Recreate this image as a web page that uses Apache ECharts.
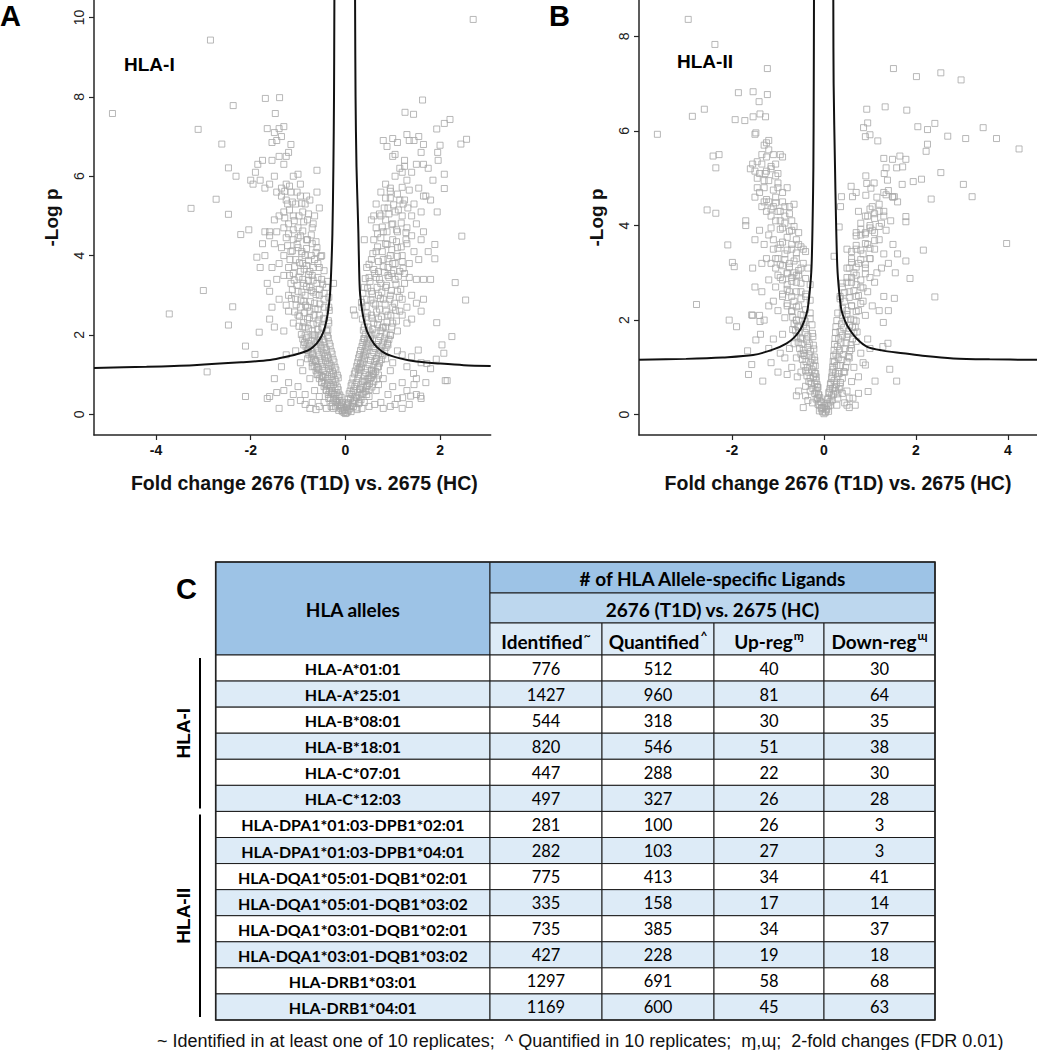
<!DOCTYPE html>
<html><head><meta charset="utf-8">
<script src="https://cdn.jsdelivr.net/npm/echarts@6/dist/echarts.min.js"></script>
<style>html,body{margin:0;padding:0;background:#fff}#c{width:1037px;height:1050px}</style>
</head><body><div id="c"></div>
<script>
// ---------- Panel A (HLA-I) volcano points [fold change, -log p] ----------
const pointsA_outliers = [[2.70,9.95],[-2.85,9.43],[-4.92,7.58],[-1.69,7.96],[-1.39,7.98],[-2.37,7.78],[-1.48,7.58],[-3.11,7.18],[-2.61,6.81],[-2.47,6.21],[-2.31,6.0],[-3.26,5.19],[-2.73,5.42],[-2.47,5.04],[-3.0,3.12],[-3.72,2.53],[-2.38,2.71],[-2.47,2.25],[-2.92,1.07],[-2.11,0.45],[-2.11,1.72],[-1.91,1.51],[-1.82,2.07],[-2.21,4.53],[-2.04,4.65],[-1.87,3.96],[1.63,7.92],[1.26,7.61],[1.44,7.56],[2.21,7.43],[2.09,7.33],[1.93,7.19],[2.56,6.93],[2.44,6.81],[2.0,6.78],[2.09,6.05],[2.09,5.69],[1.94,5.1],[2.46,4.49],[1.89,4.28],[1.89,3.92],[2.32,3.32],[2.54,2.88],[1.93,2.31],[2.25,1.96],[2.04,1.75],[2.08,1.54],[1.92,1.39],[2.11,0.85],[2.15,0.85],[1.59,0.46],[1.38,0.46],[1.21,0.42],[1.44,1.03],[1.54,1.62],[1.72,1.28],[-0.25,3.3],[0.17,2.63],[0.2,2.5]];
const pointsA_base = [[0,0.02],[-0.03,0.05],[0.03,0.04],[-0.06,0.1],[0.06,0.09],[-0.1,0.15],[0.09,0.14],[-0.02,0.12],[0.02,0.18],[-0.13,0.22],[0.12,0.2],[-0.08,0.25],[0.15,0.28],[-0.17,0.3],[0.07,0.3],[-0.12,0.35],[0.18,0.36],[-0.2,0.4],[0.11,0.4],[-0.15,0.45],[0.22,0.44],[-0.24,0.5],[0.14,0.5],[-0.18,0.55],[0.26,0.55],[-0.28,0.6],[0.17,0.6],[-0.22,0.65],[0.3,0.64],[-0.32,0.7],[0.2,0.7],[-0.25,0.75],[0.33,0.74],[-0.35,0.8],[0.23,0.8],[-0.28,0.85],[0.36,0.84],[-0.38,0.9],[0.26,0.9],[-0.3,0.95],[0.4,0.95],[-0.42,1.0],[0.28,1.0],[-0.33,1.05],[0.43,1.05],[-0.45,1.1],[0.31,1.1],[-0.36,1.15],[0.46,1.15],[-0.48,1.2],[0.34,1.2],[-0.39,1.25],[0.5,1.25],[-0.5,1.3],[0.37,1.3],[-0.42,1.35],[0.53,1.36],[-0.53,1.4],[0.4,1.4],[-0.44,1.45],[0.56,1.46],[-0.55,1.5],[0.42,1.5],[-0.47,1.55],[0.6,1.56],[-0.58,1.6],[0.45,1.6],[-0.5,1.65],[0.63,1.66],[-0.6,1.7],[0.48,1.7],[-0.52,1.75],[0.66,1.76],[-0.62,1.8],[0.5,1.8],[-0.55,1.85],[0.7,1.86],[-0.65,1.9],[0.53,1.9],[-0.57,1.95],[0.73,1.96],[-0.68,2.0],[0.56,2.0],
[-0.6,1.0],[-0.7,1.2],[-0.75,0.9],[-0.8,1.4],[-0.9,1.1],[-0.65,0.6],[-0.55,0.45],[-0.45,0.3],[-0.85,0.5],[-1.0,0.7],[-1.1,0.5],[-0.95,1.3],[-1.2,0.8],[-1.3,0.6],[-1.45,0.55],[-1.5,0.9],[-1.6,0.45],[-1.65,0.4],[-1.25,1.5],[-1.35,1.2],[-1.05,1.6],[-0.88,1.75],[-0.35,0.4],[-0.4,0.6],[-0.5,0.8],[-0.58,1.2],[-0.7,1.5],[-0.78,1.65],[-0.3,0.2],[-0.25,0.15],[-0.4,0.15],[-0.55,0.2],[-0.7,0.3],[-0.75,0.15],[-0.62,0.12],[-0.85,0.25],[-0.95,0.35],[-1.15,0.3],[-1.4,0.15],[-0.48,0.95],[-0.62,1.35],[-0.72,1.85],[-0.85,2.2],
[0.6,1.0],[0.7,1.2],[0.8,0.9],[0.85,1.4],[0.95,1.1],[0.65,0.6],[0.5,0.45],[0.4,0.3],[0.9,0.5],[1.0,0.7],[1.1,0.4],[1.0,1.3],[1.2,0.8],[1.3,0.6],[1.45,0.75],[1.5,0.9],[1.35,0.25],[1.6,0.4],[1.2,1.5],[1.3,1.2],[1.1,1.6],[0.9,1.75],[0.3,0.3],[0.35,0.5],[0.45,0.7],[0.55,1.1],[0.65,1.4],[0.75,1.6],[0.25,0.12],[0.35,0.15],[0.5,0.2],[0.62,0.25],[0.75,0.3],[0.8,0.15],[0.95,0.2],[1.05,0.25],[1.2,0.15],[1.5,0.5],[1.7,0.8],[1.8,1.15],[1.6,1.3],[1.4,1.45],[0.4,1.9],[0.6,1.7],[0.85,2.2],[0.5,0.9],[0.7,0.75]];
const pointsA_vfill = [[-0.14,0.1],[-0.07,0.08],[0.05,0.11],[0.12,0.07],[-0.21,0.19],[-0.1,0.21],[-0.04,0.17],[0.04,0.23],[0.17,0.2],[0.23,0.16],[-0.27,0.29],[-0.2,0.33],[-0.06,0.3],[0.05,0.27],[0.2,0.32],[0.28,0.27],[-0.31,0.41],[-0.25,0.38],[-0.09,0.43],[0.06,0.39],[0.24,0.42],[0.33,0.37],[-0.36,0.5],[-0.29,0.53],[-0.12,0.49],[0.08,0.52],[0.29,0.48],[0.37,0.54],[0.45,0.5],[-0.41,0.61],[-0.33,0.58],[-0.15,0.62],[0.1,0.59],[0.32,0.63],[0.42,0.58],[0.5,0.62],[-0.45,0.7],[-0.39,0.73],[-0.17,0.69],[0.12,0.72],[0.37,0.68],[0.47,0.73],[0.56,0.69],[-0.5,0.81],[-0.43,0.78],[-0.2,0.82],[0.14,0.79],[0.41,0.83],[0.51,0.78],[0.6,0.82],[-0.55,0.9],[-0.47,0.93],[-0.22,0.88],[-0.15,0.92],[0.16,0.91],[0.46,0.88],[0.55,0.93],[0.66,0.89],[-0.58,1.01],[-0.51,0.98],[-0.25,1.02],[-0.17,0.99],[0.19,1.02],[0.5,0.98],[0.59,1.03],[0.7,0.99],[-0.62,1.1],[-0.56,1.13],[-0.27,1.09],[-0.2,1.12],[0.21,1.09],[0.27,1.13],[0.55,1.12],[0.64,1.08],[-0.66,1.21],[-0.6,1.18],[-0.3,1.22],[-0.22,1.19],[0.24,1.21],[0.3,1.18],[0.6,1.22],[0.68,1.19],[-0.7,1.3],[-0.63,1.33],[-0.33,1.29],[-0.24,1.32],[0.26,1.31],[0.32,1.28],[0.62,1.33],[0.72,1.29],[-0.72,1.41],[-0.66,1.38],[-0.36,1.42],[-0.26,1.39],[0.28,1.42],[0.35,1.39],[0.66,1.41],[0.76,1.38],[-0.77,1.5],[-0.69,1.53],[-0.38,1.49],[-0.28,1.52],[0.3,1.51],[0.38,1.48],[0.7,1.52],[0.79,1.49],[-0.8,1.61],[-0.73,1.58],[-0.4,1.62],[-0.3,1.59],[0.32,1.61],[0.4,1.58],[0.73,1.62],[0.83,1.59],[-0.83,1.7],[-0.76,1.73],[-0.43,1.69],[-0.32,1.72],[0.35,1.71],[0.43,1.68],[0.77,1.72],[0.86,1.69],[-0.86,1.81],[-0.79,1.78],[-0.45,1.82],[-0.34,1.79],[0.37,1.81],[0.45,1.78],[0.8,1.82],[0.89,1.79],[-0.9,1.9],[-0.82,1.93],[-0.47,1.89],[-0.36,1.92],[0.39,1.91],[0.47,1.88],[0.83,1.92],[0.92,1.89],[-0.93,2.01],[-0.85,1.98],[-0.5,2.02],[-0.38,1.99],[0.42,2.01],[0.5,1.98],[0.86,2.02],[0.95,1.99]];
const pointsA_left = [[-0.4,2.1],[-0.5,2.2],[-0.6,2.3],[-0.7,2.1],[-0.8,2.4],[-0.9,2.2],[-1.0,2.5],[-0.45,2.4],[-0.55,2.5],[-0.75,2.6],[-1.1,2.3],[-1.3,2.1],[-1.2,2.6],[-0.35,2.3],[-0.65,2.0],[-0.95,2.7],[-1.5,2.2],[-1.6,2.4],[-1.4,2.9],
[-0.35,2.7],[-0.45,2.9],[-0.55,3.0],[-0.65,2.8],[-0.75,3.2],[-0.85,3.0],[-0.9,3.4],[-1.0,3.1],[-1.05,2.9],[-0.6,3.3],[-0.7,3.5],[-0.8,2.7],[-0.5,3.4],[-1.15,3.3],[-1.2,3.0],[-1.3,3.5],[-1.45,3.4],[-1.6,3.1],[-1.65,3.3],[-0.95,3.6],[-0.4,3.2],[-0.88,2.85],[-0.78,3.38],[-0.68,3.08],[-0.58,2.65],[-1.1,3.55],[-1.25,2.75],[-1.55,2.7],
[-0.55,3.7],[-0.65,3.9],[-0.75,3.6],[-0.85,4.0],[-0.9,3.8],[-1.0,4.2],[-1.05,3.9],[-1.15,4.1],[-1.2,3.7],[-0.7,4.3],[-0.8,4.4],[-0.95,4.5],[-1.1,4.4],[-1.3,4.0],[-1.4,3.8],[-1.5,4.3],[-1.55,3.7],[-1.7,4.0],[-1.8,3.7],[-0.6,4.2],[-0.5,4.0],[-1.25,4.45],[-0.92,4.1],[-0.82,3.75],[-1.35,4.2],[-1.6,4.5],[-1.75,4.3],[-1.45,4.6],
[-0.7,4.7],[-0.8,4.9],[-0.9,5.1],[-1.0,4.7],[-1.05,5.3],[-1.1,5.0],[-1.2,4.8],[-1.25,5.4],[-1.3,5.1],[-0.85,5.3],[-0.95,5.5],[-0.65,5.0],[-0.6,5.6],[-1.4,5.0],[-1.5,4.9],[-1.6,4.6],[-1.35,5.5],[-1.15,5.6],[-0.75,5.4],[-1.7,4.6],[-0.55,5.2],
[-0.95,5.8],[-1.1,6.0],[-1.25,5.8],[-1.3,6.3],[-1.35,5.7],[-1.2,6.6],[-1.4,6.5],[-1.5,6.0],[-1.6,5.8],[-1.7,5.7],[-1.8,5.9],[-1.9,6.1],[-2.0,5.9],[-1.85,6.3],[-1.75,6.4],[-1.45,6.9],[-1.5,7.1],[-1.4,7.2],[-1.35,7.0],[-1.3,7.25],[-1.55,6.85],[-1.65,7.2],[-1.0,6.05],[-0.6,6.15],[-1.15,6.8],[-1.25,6.5],[-1.55,6.4],[-1.95,5.8],[-1.45,5.6],
[-0.37,2.12],[-0.48,2.18],[-0.58,2.14],[-0.68,2.27],[-0.78,2.16],[-0.88,2.31],[-0.98,2.22],[-0.36,2.36],[-0.46,2.42],[-0.56,2.38],[-0.66,2.5],[-0.76,2.44],[-0.86,2.56],[-0.97,2.47],[-1.07,2.58],[-0.34,2.62],[-0.44,2.7],[-0.54,2.78],[-0.64,2.66],[-0.74,2.84],[-0.84,2.75],[-0.94,2.88],[-1.04,2.76],[-1.14,2.92],[-0.35,2.95],[-0.45,3.05],[-0.55,3.15],[-0.62,3.02],[-0.72,3.12],[-0.82,3.22],[-0.92,3.08],[-1.02,3.25],[-1.12,3.14],[-0.38,3.35],[-0.48,3.28],[-0.58,3.45],[-0.68,3.38],[-0.78,3.52],[-0.88,3.3],[-0.98,3.46],[-1.08,3.38],[-1.18,3.5],[-0.45,3.62],[-0.58,3.8],[-0.68,3.7],[-0.78,3.88],[-0.87,3.66],[-0.97,3.82],[-1.07,3.72],[-1.17,3.9],[-0.52,3.98],[-0.62,4.08],[-0.72,4.0],[-0.82,4.18],[-0.92,4.05],[-1.02,4.28],[-1.12,4.12],[-1.22,4.25],[-0.62,4.35],[-0.72,4.52],[-0.82,4.4],[-0.9,4.62],[-1.0,4.45],[-1.1,4.65],[-1.2,4.55],[-1.3,4.7],[-0.68,4.8],[-0.78,5.05],[-0.88,4.85],[-0.98,5.0],[-1.08,4.88],[-1.18,5.15],[-1.28,4.95],[-1.22,5.3],[-0.82,5.5],[-0.92,5.32],[-1.02,5.6],[-1.12,5.35],[-1.18,5.75],[-1.28,5.62]];
const pointsA_right = [[0.4,2.2],[0.5,2.1],[0.6,2.3],[0.7,2.4],[0.8,2.2],[0.9,2.5],[1.0,2.3],[1.1,2.1],[1.2,2.5],[0.55,2.5],[0.75,2.1],[0.95,2.0],[1.3,2.3],[1.4,2.4],[1.6,2.6],[0.45,2.45],[0.65,2.05],
[0.35,2.7],[0.45,2.9],[0.55,3.1],[0.6,2.8],[0.7,3.0],[0.75,3.3],[0.8,2.9],[0.85,3.2],[0.9,3.5],[0.95,3.0],[1.0,2.7],[1.05,3.4],[1.1,3.1],[1.2,2.9],[1.25,3.3],[1.3,2.7],[1.4,3.0],[1.5,3.4],[1.65,2.9],[1.5,2.8],[0.65,3.45],[0.4,3.2],[0.5,3.45],[1.15,2.6],[0.72,2.65],[1.35,3.45],[1.8,3.4],[1.65,3.4],
[0.45,3.7],[0.55,3.9],[0.65,4.1],[0.7,3.6],[0.8,3.9],[0.85,4.3],[0.9,3.7],[0.95,4.0],[1.0,4.4],[1.05,3.8],[1.1,4.2],[1.15,3.6],[1.2,4.0],[1.3,4.3],[1.35,3.8],[1.45,4.1],[1.55,3.9],[1.6,4.4],[1.75,4.1],[0.6,4.4],[0.75,4.45],[0.4,4.4],[1.25,3.55],[1.4,4.5],[0.98,3.55],
[0.55,4.9],[0.65,4.7],[0.75,5.0],[0.8,4.6],[0.85,4.9],[0.9,5.2],[1.0,4.8],[1.05,5.1],[1.1,4.6],[1.2,5.0],[1.25,5.4],[1.3,4.7],[1.4,5.0],[1.45,5.3],[1.5,4.8],[1.6,5.1],[1.65,4.6],[1.7,5.5],[0.65,5.3],[0.95,5.45],[1.15,5.4],[0.6,5.0],
[0.75,5.6],[0.85,5.8],[0.95,5.7],[1.05,6.0],[1.15,6.2],[1.2,6.1],[1.25,6.4],[1.3,5.9],[1.4,6.1],[1.5,6.3],[1.55,5.7],[1.6,6.6],[1.65,6.3],[1.75,6.2],[1.85,5.9],[1.95,6.6],[1.96,6.4],[1.65,5.5],[1.8,5.4],[1.0,6.5],[1.05,6.55],[1.55,7.0],[1.45,6.9],[1.35,6.9],[1.65,6.8],[0.8,6.9],[0.88,6.75],[1.0,6.95],[1.1,6.85],[1.25,6.25],[1.3,7.05],
[0.38,2.12],[0.48,2.2],[0.58,2.15],[0.68,2.26],[0.78,2.18],[0.88,2.32],[0.98,2.2],[1.08,2.35],[0.36,2.4],[0.46,2.55],[0.56,2.42],[0.66,2.58],[0.76,2.46],[0.86,2.6],[0.96,2.5],[1.06,2.62],[0.34,2.82],[0.44,2.72],[0.54,2.88],[0.64,2.76],[0.74,2.92],[0.84,2.78],[0.94,2.9],[1.04,2.8],[1.14,2.95],[0.37,3.05],[0.47,3.18],[0.57,3.04],[0.67,3.2],[0.77,3.08],[0.87,3.25],[0.97,3.12],[1.07,3.28],[1.17,3.15],[0.42,3.42],[0.52,3.35],[0.62,3.55],[0.72,3.4],[0.82,3.58],[0.92,3.45],[1.02,3.62],[1.12,3.48],[1.22,3.68],[0.5,3.78],[0.6,3.65],[0.7,3.85],[0.8,3.72],[0.9,3.92],[1.0,3.8],[1.1,3.98],[1.2,3.85],[0.58,4.05],[0.68,4.22],[0.78,4.1],[0.88,4.28],[0.98,4.15],[1.08,4.35],[1.18,4.22],[1.28,4.4],[0.68,4.55],[0.78,4.72],[0.88,4.6],[0.98,4.78],[1.08,4.65],[1.18,4.82],[1.28,4.58],[0.72,5.05],[0.82,5.2],[0.92,5.05],[1.02,5.28],[1.12,5.15],[1.22,5.3],[1.32,5.2],[0.85,5.45],[0.95,5.62],[1.1,5.55],[1.2,5.72],[1.35,5.65]];
// threshold curve
const curveA_left = [[-0.232,10.44],[-0.24,8],[-0.253,6.24],[-0.274,4.56],[-0.3,3.6],[-0.323,3.05],[-0.37,2.55],[-0.429,2.21],[-0.5,1.98],[-0.604,1.79],[-0.75,1.64],[-0.957,1.54],[-1.25,1.45],[-1.59,1.37],[-2.2,1.31],[-3.21,1.24],[-4.2,1.2],[-5.31,1.17]];
const curveA_right = [[0.205,10.44],[0.215,8],[0.235,6.24],[0.26,5.2],[0.275,4.56],[0.29,3.7],[0.31,3.05],[0.37,2.5],[0.45,2.12],[0.55,1.88],[0.66,1.7],[0.85,1.53],[1.155,1.41],[1.5,1.33],[2.0,1.28],[2.5,1.24],[3.07,1.22]];

// ---------- Panel B (HLA-II) ----------
const pointsB_outliers = [[-2.95,8.36],[-2.37,7.83],[-1.23,7.32],[-1.86,6.81],[-1.54,6.83],[-1.41,6.62],[-1.23,6.77],[-2.60,6.46],[-2.86,6.31],[-3.62,5.93],[-1.93,6.24],[-1.72,6.22],[-1.54,6.30],[-1.39,6.36],[-1.27,6.30],[-1.48,5.96],[-2.41,5.47],[-2.28,5.50],[-2.35,5.22],[-2.54,4.33],[-2.35,4.26],[-2.77,2.33],[-2.09,3.59],[-1.99,3.22],[-1.95,3.13],[-2.06,2.0],[-1.90,1.86],[-1.64,0.85],[-1.33,0.71],[-1.57,1.06],[-1.66,1.35],[-1.48,1.58],[-1.38,1.70],[-1.57,2.11],[-1.39,1.97],
[1.51,7.32],[2.01,7.15],[2.54,7.23],[2.98,7.08],[1.33,6.51],[1.80,6.44],[0.93,6.46],[0.95,6.17],[0.86,6.07],[2.04,6.09],[2.25,6.03],[2.41,6.16],[3.46,6.07],[2.69,5.89],[3.08,5.84],[3.75,5.84],[4.24,5.62],[1.0,5.92],[0.90,5.88],[1.17,5.79],[2.25,5.72],[2.22,5.57],[1.30,5.42],[1.49,5.40],[1.65,5.47],[1.78,5.40],[1.71,5.24],[1.35,5.22],[1.31,5.10],[1.58,5.22],[2.54,5.12],[2.12,4.98],[1.94,4.93],[1.70,4.87],[1.38,4.96],[0.91,5.05],[0.93,4.89],[1.09,4.90],[1.02,4.79],[3.03,4.87],[2.33,4.56],[3.22,4.61],[1.40,4.74],[1.49,4.61],[1.53,4.61],[0.91,4.64],[0.59,4.83],[0.62,4.61],[0.38,4.61],[0.36,4.40],[0.33,3.97],[0.22,3.35],[3.97,3.62],[2.16,3.48],[1.78,4.19],[1.78,4.08],[1.78,3.25],[1.87,2.88],[2.41,2.49],[1.53,2.46],[1.29,1.95],[1.28,1.44],[1.39,1.51],[1.43,0.96],[1.58,0.71],[1.11,0.71],[0.96,0.49]];
const pointsB_base = [[0,0.02],[-0.03,0.06],[0.03,0.05],[-0.06,0.12],[0.06,0.1],[-0.02,0.15],[0.02,0.2],[-0.1,0.2],[0.1,0.18],[-0.08,0.28],[0.13,0.27],[-0.14,0.35],[0.08,0.32],[-0.11,0.42],[0.16,0.4],[-0.17,0.5],[0.11,0.48],[-0.14,0.58],[0.19,0.56],[-0.2,0.65],[0.14,0.64],[-0.17,0.72],[0.22,0.72],[-0.23,0.8],[0.17,0.8],[-0.2,0.88],[0.25,0.88],[-0.26,0.95],[0.2,0.96],[-0.23,1.03],[0.28,1.04],[-0.29,1.1],[0.23,1.12],[-0.26,1.18],[0.31,1.2],[-0.32,1.26],[0.26,1.28],[-0.29,1.34],[0.34,1.36],[-0.35,1.42],[0.29,1.44],[-0.32,1.5],[0.37,1.52],[-0.38,1.58],[0.32,1.6],[-0.35,1.66],[0.4,1.68],[-0.41,1.74],[0.35,1.76],[-0.38,1.82],[0.43,1.84],[-0.44,1.9],[0.38,1.92],[-0.41,1.98],[0.46,2.0],
[-0.4,0.6],[-0.5,0.9],[-0.35,0.3],[-0.6,1.2],[-0.7,1.0],[-0.55,0.5],[-0.45,1.3],[-0.65,1.5],[-0.75,1.4],[-0.85,1.2],[-0.9,1.7],[-0.8,0.85],[-0.6,0.4],[-0.58,0.8],[-0.48,1.6],[-0.55,1.85],[-0.68,1.8],[-0.3,0.5],[-0.25,0.25],[-0.45,0.15],[-1.0,0.9],[-0.95,1.3],[-1.1,1.6],[-1.15,1.1],[-1.2,1.4],[-0.4,0.4],
[0.35,0.6],[0.45,0.9],[0.3,0.35],[0.55,1.2],[0.65,1.0],[0.5,0.5],[0.6,1.4],[0.7,1.55],[0.8,1.3],[0.85,1.1],[0.95,1.6],[0.75,0.8],[0.55,0.35],[0.6,0.7],[0.52,1.7],[0.62,1.85],[0.72,1.75],[0.25,0.5],[0.28,0.2],[0.45,0.25],[0.5,0.2],[0.55,0.15],[0.68,0.2],[0.63,0.35],[0.75,0.45],[0.9,1.05],[1.0,1.4],[0.4,0.45]];
const pointsB_vfill = [[-0.1,0.08],[-0.05,0.14],[0.05,0.12],[0.1,0.07],[-0.13,0.22],[-0.06,0.26],[0.07,0.24],[0.14,0.2],[-0.17,0.33],[-0.09,0.36],[0.09,0.35],[0.18,0.31],[-0.2,0.45],[-0.12,0.42],[0.11,0.46],[0.21,0.43],[0.3,0.44],[-0.24,0.55],[-0.13,0.58],[0.13,0.55],[0.24,0.58],[0.33,0.54],[-0.28,0.66],[-0.15,0.64],[-0.33,0.7],[0.15,0.67],[0.27,0.64],[0.36,0.68],[-0.3,0.77],[-0.17,0.8],[-0.37,0.82],[0.17,0.76],[0.3,0.8],[0.4,0.77],[-0.33,0.9],[-0.18,0.87],[-0.4,0.93],[0.18,0.9],[0.33,0.87],[0.43,0.91],[-0.36,1.0],[-0.19,1.03],[-0.44,1.05],[0.19,1.01],[0.36,1.04],[0.47,1.0],[-0.39,1.12],[-0.2,1.15],[-0.47,1.17],[0.2,1.13],[0.39,1.16],[0.5,1.12],[-0.42,1.25],[-0.21,1.22],[-0.5,1.28],[0.21,1.24],[0.42,1.27],[0.53,1.23],[-0.45,1.36],[-0.22,1.39],[-0.53,1.4],[0.22,1.36],[0.45,1.39],[0.56,1.35],[-0.48,1.5],[-0.23,1.47],[-0.56,1.53],[0.23,1.49],[0.48,1.52],[0.59,1.48],[-0.51,1.62],[-0.24,1.65],[-0.59,1.66],[0.24,1.61],[0.5,1.64],[0.62,1.6],[-0.54,1.75],[-0.25,1.72],[-0.62,1.78],[0.25,1.74],[0.53,1.77],[0.65,1.73],[-0.57,1.87],[-0.26,1.9],[-0.65,1.92],[0.26,1.86],[0.56,1.89],[0.68,1.85],[-0.6,2.0],[-0.3,2.03],[-0.68,2.06],[0.28,1.99],[0.58,2.02],[0.7,1.98]];
const pointsB_left = [[-0.45,2.1],[-0.55,2.3],[-0.6,2.0],[-0.65,2.4],[-0.7,2.2],[-0.75,2.6],[-0.8,2.3],[-0.85,2.05],[-0.9,2.5],[-1.0,2.2],[-1.05,2.7],[-1.1,2.4],[-0.5,2.6],[-0.6,2.8],[-0.7,2.9],[-0.8,2.75],[-0.95,2.9],[-1.2,2.3],[-1.3,2.0],[-1.4,2.1],[-1.5,2.7],[-1.55,2.1],[-1.35,2.6],[-0.4,2.5],[-0.55,2.95],[-1.2,2.85],
[-0.5,3.1],[-0.6,3.3],[-0.65,3.0],[-0.7,3.5],[-0.75,3.2],[-0.8,3.0],[-0.85,3.4],[-0.9,3.15],[-0.95,3.6],[-1.0,3.3],[-1.05,3.1],[-1.1,3.5],[-1.15,3.2],[-1.2,3.8],[-1.3,3.6],[-1.4,3.9],[-1.5,3.7],[-1.55,3.1],[-1.7,4.0],[-0.6,3.7],[-0.7,3.9],[-0.8,3.75],[-0.9,3.95],[-1.25,3.3],[-0.45,3.5],[-0.55,3.6],[-1.35,3.2],
[-0.7,4.1],[-0.75,4.4],[-0.85,4.2],[-0.9,4.5],[-0.95,4.1],[-1.0,4.3],[-1.05,4.6],[-1.1,4.4],[-1.15,4.2],[-1.2,4.5],[-1.25,4.3],[-1.3,4.5],[-1.35,4.4],[-1.4,4.7],[-1.45,4.8],[-1.5,4.6],[-1.45,5.0],[-1.0,4.8],[-0.8,4.8],[-1.3,4.95],[-0.65,4.45],[-1.7,4.1],[-1.6,5.2],[-1.55,5.3],
[-1.0,5.1],[-1.05,5.3],[-1.1,5.5],[-1.15,5.2],[-1.2,5.6],[-1.25,5.45],[-1.3,5.7],[-1.35,5.5],[-1.4,5.1],[-1.45,5.35],[-1.2,5.8],[-1.25,5.75],[-0.95,5.5],[-0.9,5.45],[-1.5,5.15],[-1.5,5.93],[-1.28,5.1],
[-0.3,2.15],[-0.4,2.22],[-0.5,2.12],[-0.6,2.28],[-0.7,2.18],[-0.8,2.35],[-0.3,2.42],[-0.4,2.55],[-0.5,2.45],[-0.6,2.6],[-0.7,2.5],[-0.8,2.65],[-0.9,2.55],[-0.3,2.75],[-0.4,2.88],[-0.5,2.78],[-0.6,2.95],[-0.7,2.82],[-0.8,2.98],[-0.9,2.85],[-1.0,2.95],[-0.35,3.1],[-0.45,3.2],[-0.55,3.05],[-0.65,3.25],[-0.75,3.12],[-0.85,3.28],[-0.95,3.18],[-1.05,3.3],[-0.4,3.45],[-0.5,3.55],[-0.6,3.42],[-0.7,3.6],[-0.8,3.48],[-0.9,3.65],[-1.0,3.52],[-1.1,3.7],[-0.55,3.85],[-0.65,3.98],[-0.75,3.88],[-0.85,4.05],[-0.95,3.92],[-1.05,4.1],[-1.15,3.95],[-0.75,4.25],[-0.85,4.4],[-0.95,4.3],[-1.05,4.48],[-1.15,4.35],[-1.25,4.55],[-0.9,4.7],[-1.0,4.9],[-1.1,4.75],[-1.2,4.95],[-1.3,4.8],[-1.05,5.05],[-1.15,5.25],[-1.25,5.15],[-1.35,5.3]];
const pointsB_right = [[0.4,2.1],[0.45,2.4],[0.5,2.2],[0.55,2.6],[0.6,2.3],[0.65,2.0],[0.7,2.5],[0.75,2.2],[0.8,2.7],[0.85,2.4],[0.9,2.1],[0.95,2.6],[0.5,2.8],[0.6,2.9],[0.7,2.75],[0.4,2.7],[1.05,2.3],[1.1,2.8],[1.2,2.2],[1.3,2.5],[0.35,2.5],[1.0,2.9],[1.4,2.2],
[0.55,3.1],[0.6,3.3],[0.65,3.0],[0.7,3.5],[0.75,3.2],[0.8,3.8],[0.85,3.4],[0.9,3.1],[0.95,3.6],[1.0,3.3],[1.05,3.9],[1.1,3.5],[1.15,3.0],[1.2,3.7],[1.3,3.4],[1.35,3.9],[1.4,3.2],[1.5,3.6],[1.55,3.0],[0.7,3.85],[0.5,3.5],[0.9,3.85],[1.25,3.1],[1.6,3.4],
[0.8,4.05],[0.95,4.2],[1.05,4.4],[1.1,4.15],[1.2,4.3],[1.25,4.05],[1.15,4.6],[1.3,4.7],[1.35,4.65],[1.45,4.1],[1.5,4.6],[0.75,4.3],[1.0,4.0],[1.3,4.2],[1.6,4.5],[0.7,4.7],
[0.3,2.15],[0.4,2.25],[0.5,2.12],[0.6,2.3],[0.7,2.18],[0.8,2.35],[0.35,2.45],[0.45,2.58],[0.55,2.48],[0.65,2.62],[0.75,2.52],[0.85,2.68],[0.4,2.78],[0.5,2.9],[0.6,2.8],[0.7,2.95],[0.8,2.85],[0.9,2.98],[0.5,3.1],[0.6,3.22],[0.7,3.12],[0.8,3.28],[0.9,3.18],[1.0,3.3],[0.6,3.45],[0.7,3.58],[0.8,3.48],[0.9,3.62],[1.0,3.52],[1.1,3.68],[0.7,3.78],[0.8,3.92],[0.9,3.82],[1.0,3.95],[1.1,3.85],[1.2,3.98],[0.9,4.2],[1.0,4.35],[1.1,4.25],[1.2,4.45],[1.3,4.3]];
const curveB_left = [[-0.217,8.77],[-0.222,7],[-0.23,5.24],[-0.245,4.2],[-0.27,3.13],[-0.31,2.6],[-0.36,2.21],[-0.43,1.98],[-0.52,1.79],[-0.65,1.63],[-0.81,1.51],[-1.1,1.38],[-1.54,1.26],[-2.2,1.21],[-3.0,1.18],[-4.02,1.16]];
const curveB_right = [[0.203,8.77],[0.21,7],[0.24,5.24],[0.26,4.2],[0.29,3.13],[0.33,2.6],[0.38,2.21],[0.46,1.98],[0.565,1.79],[0.72,1.6],[0.93,1.44],[1.25,1.36],[1.72,1.30],[2.2,1.24],[2.81,1.19],[3.6,1.17],[4.63,1.16]];

// tick labels
const xTicksA = [-4,-2,0,2];
const yTicksA = [0,2,4,6,8,10];
const xTicksB = [-2,0,2,4];
const yTicksB = [0,2,4,6,8];

// ---------- Table C ----------
const alleles = ['HLA-A*01:01','HLA-A*25:01','HLA-B*08:01','HLA-B*18:01','HLA-C*07:01','HLA-C*12:03','HLA-DPA1*01:03-DPB1*02:01','HLA-DPA1*01:03-DPB1*04:01','HLA-DQA1*05:01-DQB1*02:01','HLA-DQA1*05:01-DQB1*03:02','HLA-DQA1*03:01-DQB1*02:01','HLA-DQA1*03:01-DQB1*03:02','HLA-DRB1*03:01','HLA-DRB1*04:01'];
const identified = [776,1427,544,820,447,497,281,282,775,335,735,427,1297,1169];
const quantified = [512,960,318,546,288,327,100,103,413,158,385,228,691,600];
const upReg = [40,81,30,51,22,26,26,27,34,17,34,19,58,45];
const downReg = [30,64,35,38,30,28,3,3,41,14,37,18,68,63];
const colHeaders = [['Identified','~'],['Quantified','^'],['Up-reg','ɱ'],['Down-reg','ɰ']];
const groups = [['HLA-I',0,5],['HLA-II',6,13]];
const footnote = '~ Identified in at least one of 10 replicates;  ^ Quantified in 10 replicates;  ɱ,ɰ;  2-fold changes (FDR 0.01)';

const chart = echarts.init(document.getElementById('c'), null, {renderer:'svg', width:1037, height:1050});
const AX = '#262626';
const ARIAL = '"Liberation Sans", Arial, sans-serif';
const ptStyle = {color:'rgba(255,255,255,0)', borderColor:'#a6a6a6', borderWidth:1};

function xAxisCfg(idx, min, max, ticks){
  return {gridIndex:idx, type:'value', min:min, max:max,
    name:'Fold change 2676 (T1D) vs. 2675 (HC)', nameLocation:'middle', nameGap:38,
    nameTextStyle:{fontFamily:ARIAL, fontWeight:'bold', fontSize:19.5, color:'#111', padding:[0,0,0,idx===0?24:0]},
    axisLine:{show:true, onZero:false, lineStyle:{color:AX, width:1.5}},
    axisTick:{show:true, customValues:ticks, length:5, lineStyle:{color:AX, width:1.2}},
    axisLabel:{customValues:ticks, fontFamily:ARIAL, fontWeight:'bold', fontSize:14, color:'#111', margin:8},
    splitLine:{show:false}};
}
function yAxisCfg(idx, min, max, ticks){
  return {gridIndex:idx, type:'value', min:min, max:max,
    name:'-Log p', nameLocation:'middle', nameGap:33, nameRotate:90,
    nameTextStyle:{fontFamily:ARIAL, fontWeight:'bold', fontSize:19, color:'#111'},
    axisLine:{show:true, onZero:false, lineStyle:{color:AX, width:1.5}},
    axisTick:{show:true, customValues:ticks, length:5, lineStyle:{color:AX, width:1.2}},
    axisLabel:{customValues:ticks, rotate:90, fontFamily:ARIAL, fontSize:14, color:'#222', margin:8},
    splitLine:{show:false}};
}
function scat(name, data, idx){
  return {name:name, type:'scatter', xAxisIndex:idx, yAxisIndex:idx, data:data, symbol:'rect', symbolSize:6, itemStyle:ptStyle, silent:true, z:2};
}
function curve(name, data, idx){
  return {name:name, type:'line', xAxisIndex:idx, yAxisIndex:idx, data:data, showSymbol:false, symbol:'none', smooth:0.3, lineStyle:{color:'#111', width:2}, silent:true, z:5, clip:true};
}

// table graphic built from arrays
const colX = [215.7, 490, 602, 714, 824, 935];
const hdrY = [562, 593, 623, 655];
const rowH = (1020-655)/14;
const FONT_T = 'Lato, "Open Sans", sans-serif';
const g = [];
function rect(x0,y0,x1,y1,fill){ g.push({type:'rect', shape:{x:x0,y:y0,width:x1-x0,height:y1-y0}, style:{fill:fill, stroke:'#1a1a1a', lineWidth:1}, silent:true, z:10}); }
function txt(x,y,text,opt){ g.push({type:'text', x:x, y:y, style:Object.assign({text:text, align:'center', verticalAlign:'middle', fill:'#000', font:'bold 19px '+FONT_T}, opt||{}), silent:true, z:11}); }
rect(colX[0],hdrY[0],colX[1],hdrY[3],'#9dc3e6');
txt((colX[0]+colX[1])/2,(hdrY[0]+hdrY[3])/2+1,'HLA alleles');
rect(colX[1],hdrY[0],colX[5],hdrY[1],'#9dc3e6');
txt((colX[1]+colX[5])/2,(hdrY[0]+hdrY[1])/2+1,'# of HLA Allele-specific Ligands');
rect(colX[1],hdrY[1],colX[5],hdrY[2],'#bdd7ee');
txt((colX[1]+colX[5])/2,(hdrY[1]+hdrY[2])/2+1,'2676 (T1D) vs. 2675 (HC)');
colHeaders.forEach((h,i)=>{
  rect(colX[i+1],hdrY[2],colX[i+2],hdrY[3],'#ddebf7');
  g.push({type:'text', x:(colX[i+1]+colX[i+2])/2, y:(hdrY[2]+hdrY[3])/2+1, silent:true, z:11,
    style:{text:'{m|'+h[0]+'}{s|'+h[1]+'}', align:'center', verticalAlign:'middle',
      rich:{m:{font:'bold 19px '+FONT_T, fill:'#000', verticalAlign:'bottom', lineHeight:22},
            s:{font:'bold 12px '+FONT_T, fill:'#000', verticalAlign:'top', lineHeight:22, padding:[0,0,0,1]}}}});
});
alleles.forEach((a,i)=>{
  const y0 = hdrY[3]+i*rowH, y1 = y0+rowH, yc=(y0+y1)/2+0.5;
  const fill = i%2===0 ? '#ffffff' : '#ddebf7';
  rect(colX[0],y0,colX[1],y1,fill);
  txt((colX[0]+colX[1])/2,yc,a,{font:'bold 16px '+FONT_T});
  [identified,quantified,upReg,downReg].forEach((arr,j)=>{
    rect(colX[j+1],y0,colX[j+2],y1,fill);
    txt((colX[j+1]+colX[j+2])/2,yc,String(arr[i]),{font:'16.5px '+FONT_T});
  });
});
g.push({type:'rect', shape:{x:colX[0],y:hdrY[0],width:colX[5]-colX[0],height:hdrY[3]+14*rowH-hdrY[0]}, style:{fill:null, stroke:'#222', lineWidth:1.6}, silent:true, z:12});
groups.forEach(gr=>{
  const y0 = hdrY[3]+gr[1]*rowH+3, y1 = hdrY[3]+(gr[2]+1)*rowH-3;
  g.push({type:'line', shape:{x1:200,y1:y0,x2:200,y2:y1}, style:{stroke:'#000', lineWidth:2}, silent:true});
  g.push({type:'text', x:183, y:(y0+y1)/2, rotation:Math.PI/2, silent:true,
    style:{text:gr[0], align:'center', verticalAlign:'middle', font:'bold 19px '+ARIAL, fill:'#000'}});
});
g.push({type:'text', x:157, y:1041, silent:true, style:{text:footnote, align:'left', verticalAlign:'middle', font:'18px '+ARIAL, fill:'#111'}});
[['A',0,16],['B',549,16],['C',176,589]].forEach(p=>{
  g.push({type:'text', x:p[1], y:p[2], silent:true, style:{text:p[0], align:'left', verticalAlign:'middle', font:'bold 29px '+ARIAL, fill:'#000'}});
});
g.push({type:'text', x:124, y:64, silent:true, style:{text:'HLA-I', align:'left', verticalAlign:'middle', font:'bold 19px '+ARIAL, fill:'#000'}});
g.push({type:'text', x:677, y:61, silent:true, style:{text:'HLA-II', align:'left', verticalAlign:'middle', font:'bold 19px '+ARIAL, fill:'#000'}});

chart.setOption({
  animation:false, backgroundColor:'#fff',
  grid:[{left:94, top:0, width:396.7, height:435, containLabel:false},
        {left:639, top:0, width:398, height:435, containLabel:false}],
  xAxis:[xAxisCfg(0,-5.31,3.07,xTicksA), xAxisCfg(1,-4.02,4.63,xTicksB)],
  yAxis:[yAxisCfg(0,-0.52,10.44,yTicksA), yAxisCfg(1,-0.43,8.77,yTicksB)],
  series:[
    scat('A outliers',pointsA_outliers,0), scat('A base',pointsA_base,0), scat('A V',pointsA_vfill,0), scat('A left',pointsA_left,0), scat('A right',pointsA_right,0),
    curve('A curve left',curveA_left,0), curve('A curve right',curveA_right,0),
    scat('B outliers',pointsB_outliers,1), scat('B base',pointsB_base,1), scat('B V',pointsB_vfill,1), scat('B left',pointsB_left,1), scat('B right',pointsB_right,1),
    curve('B curve left',curveB_left,1), curve('B curve right',curveB_right,1)
  ],
  graphic:{elements:g}
});
</script></body></html>
